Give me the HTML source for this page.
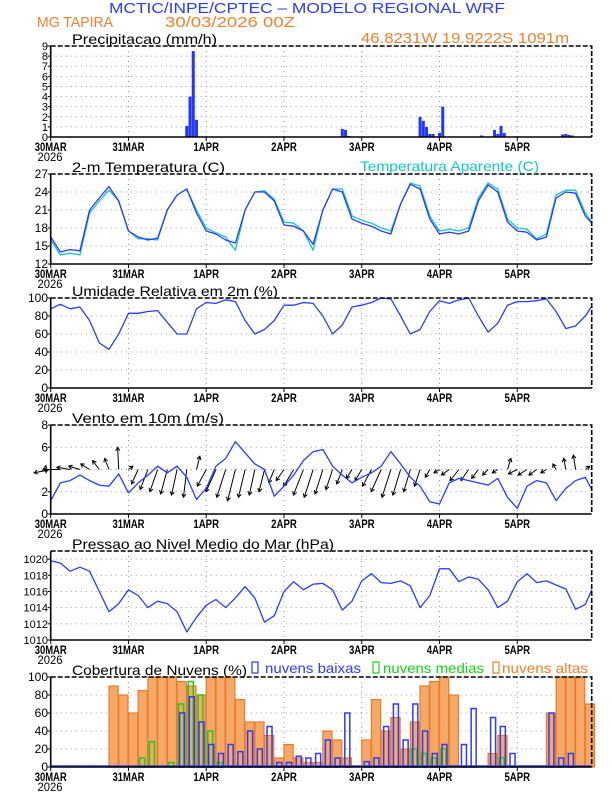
<!DOCTYPE html>
<html><head><meta charset="utf-8">
<style>
html,body{margin:0;padding:0;background:#fff;}
svg{display:block;font-family:"Liberation Sans",sans-serif;}
</style></head>
<body>
<svg id="chart" width="612" height="792" viewBox="0 0 612 792" xmlns="http://www.w3.org/2000/svg">
<text x="109" y="13" font-size="15" fill="#2a3cff" textLength="396" lengthAdjust="spacingAndGlyphs">MCTIC/INPE/CPTEC – MODELO REGIONAL WRF</text>
<text x="37" y="27" font-size="15" fill="#f08030" textLength="76" lengthAdjust="spacingAndGlyphs">MG TAPIRA</text>
<text x="165" y="27" font-size="15" fill="#f08030" textLength="130" lengthAdjust="spacingAndGlyphs">30/03/2026 00Z</text>
<text x="361" y="43" font-size="15" fill="#f08030" textLength="208" lengthAdjust="spacingAndGlyphs">46.8231W 19.9222S 1091m</text>
</svg>
<script>
// ---------- data (3-hourly, last point at hour 167) ----------
const tempVals=[16.5,14,14.4,14.2,21,23,24.9,22.5,17.5,16.5,16,16.3,21,23.5,24.5,20.5,17.5,17,16,15.5,21,24,24,22.5,18.5,18.3,17.5,15.3,21,24.5,24,19.5,18.8,18.3,17.5,17,22,25.3,24.5,19.5,17,17.3,17,17.5,22.5,25.2,24,19,17.5,17.3,16,16.5,23,24,23.8,20,18.8];
const appTempVals=[16,13.5,13.8,13.5,20.5,22.5,24.3,22.5,17.5,16.2,16.2,16,21,23.5,24.5,21,18,17.2,16.5,14.3,21,24,24.2,22.8,19,18.8,17.5,14.3,21,24.5,24.5,20,19.3,18.8,18,17.5,22,25.5,25,20,17.5,17.8,17.5,18,23,25.5,24.5,19.5,18,17.8,16.2,17,23.5,24.3,24.3,20.5,19];
const rhVals=[88,93,88,90,75,50,43,60,83,83,85,86,73,60,60,88,95,94,98,96,75,60,65,75,92,92,95,94,80,60,70,90,92,95,100,99,80,60,65,85,97,94,98,100,80,62,72,92,96,96,97,99,85,66,69,80,91];
const windVals=[1.2,2.8,3,3.5,3.0,2.6,2.5,3.6,1.9,2.8,3.5,4.3,3.7,4.3,3.3,1.3,2.3,4.3,5.0,6.5,5.5,4.5,4.0,1.6,2.5,3.5,4.8,5.6,5.8,4.3,3.5,2.8,3.3,3.7,4.3,5.6,4.5,3.3,2.5,1.1,0.9,2.8,3.2,3.0,2.8,2.6,3.2,1.5,0.5,2.5,3.0,2.8,1.2,2.3,3.0,3.3,2.2];
const presVals=[1019.8,1019.5,1018.5,1019,1018.5,1016,1013.5,1014.5,1016.2,1015.5,1014,1014.8,1014.5,1013.5,1011,1012.8,1014.3,1015,1014,1015.2,1016.6,1015.2,1012.2,1013,1016,1017.2,1016.2,1016.9,1017,1016.2,1013.7,1014.8,1017.3,1018.2,1017.1,1017,1017.3,1016.7,1014,1015.5,1018.8,1018.8,1017.2,1017.8,1017.5,1016.2,1014,1014.8,1017.2,1018.2,1017.1,1017.3,1016.8,1016.3,1013.8,1014.4,1016.2];
// wind vector components (arrow length units), 3-hourly h0..h165
const windU=[-1.5,-1.5,-1.2,-1,-0.8,-0.6,-0.4,-0.1, 0.4,-0.6,-0.7,-0.7,-0.6,-0.5,-0.3,0.3, -0.8,-0.9,-0.8,-0.7,-0.6,-0.5,-0.5,-0.5, -0.7,-0.9,-0.9,-0.8,-0.7,-0.6,-0.5,-0.5, -0.6,-0.8,-0.9,-0.8,-0.7,-0.6,-0.5,-0.4, -0.5,-0.7,-0.8,-0.7,-0.6,-0.5,-0.5,0.3, -0.8,-0.8,-0.7,-0.5,-0.3,-0.2,-0.2,0.4];
const windV=[-0.3,0,0.2,0.3,0.5,0.8,1.0,2.0, 0.3,-1.3,-1.8,-2,-2.2,-2.3,-2.5,1.2, -1.5,-2,-2.5,-2.8,-2.5,-2.3,-2,-1.2, -1,-1.5,-2.3,-2.5,-2.2,-1.8,-1.3,-0.8, -1,-1.5,-2,-2.5,-2.3,-2,-1.5,-0.7, -0.3,-0.5,-1,-1,-0.8,-0.5,-0.3,1.0, -0.4,-0.5,-0.5,-0.3,0.5,1.0,1.3,0.3];
// hourly precipitation (only non-zero hours)
const precipHours=[42,43,44,45,90,91,92,114,115,116,117,118,120,121,133,137,138,139,140,158,159,160,161];
const precipVals=[1.1,4.0,8.5,1.7,0.8,0.7,0.1,2.0,1.6,1.0,0.3,0.3,0.4,3.0,0.15,0.7,0.3,1.1,0.4,0.25,0.3,0.2,0.15];
// cloud cover %, 3-hourly h0..h165
const cloudHigh=[0,0,0,0,0,0,90,80, 60,85,100,100,100,95,90,80, 100,100,100,75,50,50,35,10, 25,10,5,5,40,30,10,0, 30,75,40,55,20,50,90,95, 100,80,0,0,0,15,35,0, 0,0,0,60,100,100,100,70];
const cloudMid=[0,0,0,0,0,0,0,0, 0,10,28,0,5,70,95,80, 40,5,0,0,0,0,0,0, 0,0,0,0,0,0,0,0, 0,0,0,0,0,20,15,10, 20,0,0,0,0,0,10,0, 0,0,0,0,0,0,0,0];
const cloudLow=[0,0,0,0,0,0,0,0, 0,0,0,0,0,60,78,50, 25,15,25,17,40,20,45,5, 5,12,10,15,30,10,60,0, 6,10,45,70,30,70,40,15, 25,0,25,65,0,55,45,15, 0,0,0,60,10,15,0,0];
const dayLabels=["30MAR","31MAR","1APR","2APR","3APR","4APR","5APR"];
const tempTicks=[12,15,18,21,24,27];
const rhTicks=[0,20,40,60,80,100];
const windTicks=[0,2,4,6,8];
const presTicks=[1010,1012,1014,1016,1018,1020];
const precipTicks=[0,1,2,3,4,5,6,7,8,9];
const cloudTicks=[0,20,40,60,80,100];

// ---------- helpers ----------
const NS="http://www.w3.org/2000/svg";
const svg=document.getElementById('chart');
const X0=50.7, PXH=3.24, X1=591.7;
function xOf(h){return X0+h*PXH;}
function hourOf(i){return i<56?i*3:167;}
function mk(tag,attrs,parent){const e=document.createElementNS(NS,tag);for(const k in attrs)e.setAttribute(k,attrs[k]);(parent||svg).appendChild(e);return e;}
function yScale(p){return v=>p.bottom-(v-p.min)/(p.max-p.min)*(p.bottom-p.top);}

function panel(p,name,title,ticks){
  const g=mk('g',{});
  
  
  const ys=yScale(p);
  // grid
  for(let d=1;d<7;d++){
    const l=mk('line',{x1:xOf(d*24),x2:xOf(d*24),y1:p.top,y2:p.bottom,stroke:'#9a9a9a','stroke-width':1,'stroke-dasharray':'1,4'},g);
    
    
  }
  ticks.forEach(t=>{
    if(t!==p.min&&t!==p.max){
      const l=mk('line',{x1:X0,x2:X1,y1:ys(t),y2:ys(t),stroke:'#9a9a9a','stroke-width':1,'stroke-dasharray':'1,4'},g);
      
      
    }
    const tl=mk('text',{x:48,y:ys(t)+4,'font-size':p.fs||12,'text-anchor':'end',fill:'#000'},g);
    tl.textContent=t;
    
    
    const tk=mk('line',{x1:X0-3,x2:X0,y1:ys(t),y2:ys(t),stroke:'#000'},g);
    
    
  });
  // x labels
  dayLabels.forEach((lab,d)=>{
    const tx=mk('text',{x:xOf(d*24),y:p.bottom+14,'font-size':12,'font-weight':'bold','text-anchor':'middle',textLength:lab.length*6.4,lengthAdjust:'spacingAndGlyphs'},g);
    tx.textContent=lab;
    
    
    const tk=mk('line',{x1:xOf(d*24),x2:xOf(d*24),y1:p.bottom,y2:p.bottom+4,stroke:'#000'},g);
    
    
  });
  const yr=mk('text',{x:50,y:p.bottom+24,'font-size':12,'text-anchor':'middle',textLength:25,lengthAdjust:'spacingAndGlyphs'},g);
  yr.textContent='2026';
  
  
  const tt=mk('text',{x:72,y:p.top-2,'font-size':14,fill:'#000',textLength:p.tw,lengthAdjust:'spacingAndGlyphs'},g);
  tt.textContent=title;
  
  
  return {g,ys};
}
function frame(p,g){
  const a=mk('path',{d:`M${X0},${p.top} L${X0},${p.bottom} L${X1},${p.bottom}`,fill:'none',stroke:'#000','stroke-width':1.6},g);
  
  
  const b=mk('path',{d:`M${X0},${p.top} L${X1},${p.top} L${X1},${p.bottom}`,fill:'none',stroke:'#000','stroke-width':1.6,'stroke-dasharray':'5,2'},g);
  
  
}
function line(vals,ys,color,g,name){
  const d=vals.map((v,i)=>(i?'L':'M')+xOf(hourOf(i)).toFixed(1)+','+ys(v).toFixed(1)).join(' ');
  const l=mk('path',{d,fill:'none',stroke:color,'stroke-width':1.3,'stroke-linejoin':'round'},g);
  
  
}

// ---------- precipitation ----------
const pP={top:46,bottom:137,min:0,max:9,tw:145,fs:11};
const P1=panel(pP,'precip-panel','Precipitacao (mm/h)',precipTicks);
precipHours.forEach((h,i)=>{
  const y=P1.ys(precipVals[i]);
  const r=mk('rect',{x:xOf(h)-1.5,y:y,width:3,height:pP.bottom-y,fill:'#2136ff'},P1.g);
  
  
});
frame(pP,P1.g);

// ---------- temperature ----------
const pT={top:174,bottom:264,min:12,max:27,tw:153};
const P2=panel(pT,'temperature-panel','2-m Temperatura (C)',tempTicks);
line(appTempVals,P2.ys,'#12c8c0',P2.g,'apparent-temp-line');
line(tempVals,P2.ys,'#2a3cff',P2.g,'temp-line');
frame(pT,P2.g);
const at=mk('text',{x:360,y:171,'font-size':14,fill:'#12c8c0',textLength:179,lengthAdjust:'spacingAndGlyphs'});
at.textContent='Temperatura Aparente (C)';



// ---------- RH ----------
const pR={top:298,bottom:388,min:0,max:100,tw:206};
const P3=panel(pR,'humidity-panel','Umidade Relativa em 2m (%)',rhTicks);
line(rhVals,P3.ys,'#2a3cff',P3.g,'humidity-line');
frame(pR,P3.g);

// ---------- wind ----------
const pW={top:425,bottom:514,min:0,max:8,tw:152};
const P4=panel(pW,'wind-panel','Vento em 10m (m/s)',windTicks);
const unitPx=(pW.bottom-pW.top)/8;
windU.forEach((u,i)=>{
  const x=xOf(i*3), y=P4.ys(4);
  const x2=x+u*unitPx, y2=P4.ys(4+windV[i]);
  const dx=x2-x, dy=y2-y, L=Math.hypot(dx,dy)||1, ux=dx/L, uy=dy/L;
  const hl=3.5;
  const d=`M${x},${y} L${x2},${y2} M${x2-hl*ux+hl*0.6*uy},${y2-hl*uy-hl*0.6*ux} L${x2},${y2} L${x2-hl*ux-hl*0.6*uy},${y2-hl*uy+hl*0.6*ux}`;
  const a=mk('path',{d,fill:'none',stroke:'#000','stroke-width':1},P4.g);
  
  
});
line(windVals,P4.ys,'#2a3cff',P4.g,'wind-speed-line');
frame(pW,P4.g);

// ---------- pressure ----------
const pS={top:551,bottom:640,min:1010,max:1021,tw:262,fs:11};
const P5=panel(pS,'pressure-panel','Pressao ao Nivel Medio do Mar (hPa)',presTicks);
line(presVals,P5.ys,'#2a3cff',P5.g,'pressure-line');
frame(pS,P5.g);

// ---------- clouds ----------
const pC={top:677,bottom:767,min:0,max:100,tw:175};
const P6=panel(pC,'cloud-panel','Cobertura de Nuvens (%)',cloudTicks);
function bars(vals,opts,name){
  vals.forEach((v,i)=>{
    if(v<=0)return;
    const y=P6.ys(v);
    const r=mk('rect',{x:xOf(i*3)+opts.off,y:y,width:opts.w,height:pC.bottom-y,fill:opts.fill,stroke:opts.stroke,'stroke-width':opts.sw},P6.g);
    
    
  });
}
bars(cloudHigh,{off:0,w:9.2,fill:'#f5a868',stroke:'#ec7a26',sw:1.2},'high-cloud-bar');
bars(cloudMid,{off:1.5,w:5,fill:'none',stroke:'#18d018',sw:1.5},'mid-cloud-bar');
bars(cloudLow,{off:2.5,w:5,fill:'none',stroke:'#2a3cff',sw:1.5},'low-cloud-bar');
mk('line',{x1:X0,x2:X1,y1:pC.bottom-1,y2:pC.bottom-1,stroke:'#2a3cff','stroke-width':1.5},P6.g);
frame(pC,P6.g);
const legs=[['#2a3cff',252,265,96,'nuvens baixas','legend-low-clouds'],['#18d018',373,383,101,'nuvens medias','legend-mid-clouds'],['#f08030',493,502,86,'nuvens altas','legend-high-clouds']];
legs.forEach(l=>{
  const r=mk('rect',{x:l[1],y:662,width:6,height:11,fill:'none',stroke:l[0],'stroke-width':1.2});
  
  
  const t=mk('text',{x:l[2],y:673,'font-size':14,fill:l[0],textLength:l[3],lengthAdjust:'spacingAndGlyphs'});
  t.textContent=l[4];
  
  
});
</script>
</body></html>
